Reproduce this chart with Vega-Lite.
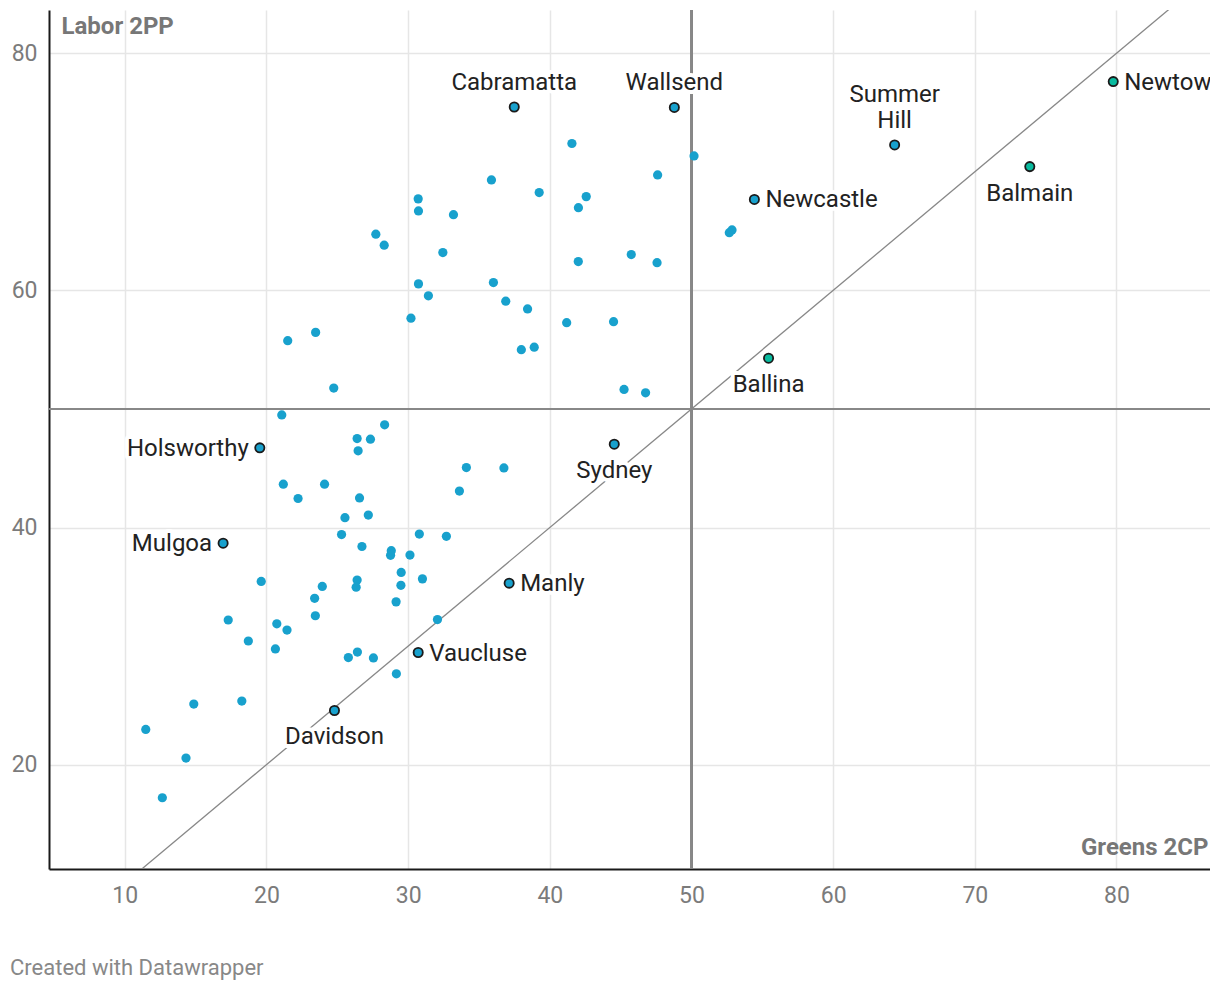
{
  "$schema": "https://vega.github.io/schema/vega-lite/v6.json",
  "width": 1161,
  "height": 859,
  "autosize": {"type": "none"},
  "padding": {"left": 49, "top": 10, "right": 0, "bottom": 137},
  "background": "white",
  "config": {"font": "Roboto", "view": {"stroke": null}},
  "title": {"text": "Created with Datawrapper", "orient": "bottom", "anchor": "start", "frame": "group", "dx": -39, "offset": 51, "fontSize": 22, "fontWeight": "normal", "color": "#888888", "font": "Roboto"},
  "datasets": {
    "seats": [
      {"seat": "Cabramatta", "greens": 37.49, "labor": 75.47, "held": "other"},
      {"seat": "Wallsend", "greens": 48.79, "labor": 75.43, "held": "other"},
      {"seat": "Newcastle", "greens": 54.44, "labor": 67.67, "held": "other"},
      {"seat": "Summer Hill", "greens": 64.34, "labor": 72.27, "held": "other"},
      {"seat": "Balmain", "greens": 73.88, "labor": 70.44, "held": "greens"},
      {"seat": "Newtown", "greens": 79.77, "labor": 77.61, "held": "greens"},
      {"seat": "Ballina", "greens": 55.44, "labor": 54.28, "held": "greens"},
      {"seat": "Sydney", "greens": 44.55, "labor": 47.03, "held": "other"},
      {"seat": "Holsworthy", "greens": 19.53, "labor": 46.72, "held": "other"},
      {"seat": "Mulgoa", "greens": 16.94, "labor": 38.68, "held": "other"},
      {"seat": "Manly", "greens": 37.13, "labor": 35.31, "held": "other"},
      {"seat": "Vaucluse", "greens": 30.71, "labor": 29.46, "held": "other"},
      {"seat": "Davidson", "greens": 24.8, "labor": 24.57, "held": "other"},
      {"greens": 41.56, "labor": 72.39, "held": "other"},
      {"greens": 50.18, "labor": 71.34, "held": "other"},
      {"greens": 47.61, "labor": 69.74, "held": "other"},
      {"greens": 35.88, "labor": 69.32, "held": "other"},
      {"greens": 39.25, "labor": 68.25, "held": "other"},
      {"greens": 42.57, "labor": 67.91, "held": "other"},
      {"greens": 30.71, "labor": 67.72, "held": "other"},
      {"greens": 42.02, "labor": 66.98, "held": "other"},
      {"greens": 30.73, "labor": 66.7, "held": "other"},
      {"greens": 33.2, "labor": 66.39, "held": "other"},
      {"greens": 52.86, "labor": 65.1, "held": "other"},
      {"greens": 52.67, "labor": 64.87, "held": "other"},
      {"greens": 27.72, "labor": 64.74, "held": "other"},
      {"greens": 28.31, "labor": 63.81, "held": "other"},
      {"greens": 32.45, "labor": 63.19, "held": "other"},
      {"greens": 45.75, "labor": 63.02, "held": "other"},
      {"greens": 42.01, "labor": 62.43, "held": "other"},
      {"greens": 47.57, "labor": 62.34, "held": "other"},
      {"greens": 30.73, "labor": 60.55, "held": "other"},
      {"greens": 36.02, "labor": 60.66, "held": "other"},
      {"greens": 31.43, "labor": 59.54, "held": "other"},
      {"greens": 36.89, "labor": 59.09, "held": "other"},
      {"greens": 38.43, "labor": 58.44, "held": "other"},
      {"greens": 30.2, "labor": 57.66, "held": "other"},
      {"greens": 41.19, "labor": 57.28, "held": "other"},
      {"greens": 44.5, "labor": 57.36, "held": "other"},
      {"greens": 23.47, "labor": 56.46, "held": "other"},
      {"greens": 21.5, "labor": 55.76, "held": "other"},
      {"greens": 37.99, "labor": 55.0, "held": "other"},
      {"greens": 38.9, "labor": 55.21, "held": "other"},
      {"greens": 24.75, "labor": 51.76, "held": "other"},
      {"greens": 45.24, "labor": 51.65, "held": "other"},
      {"greens": 46.76, "labor": 51.36, "held": "other"},
      {"greens": 21.08, "labor": 49.5, "held": "other"},
      {"greens": 28.34, "labor": 48.66, "held": "other"},
      {"greens": 26.4, "labor": 47.5, "held": "other"},
      {"greens": 27.34, "labor": 47.45, "held": "other"},
      {"greens": 26.47, "labor": 46.47, "held": "other"},
      {"greens": 34.11, "labor": 45.06, "held": "other"},
      {"greens": 36.76, "labor": 45.03, "held": "other"},
      {"greens": 21.19, "labor": 43.66, "held": "other"},
      {"greens": 24.1, "labor": 43.66, "held": "other"},
      {"greens": 22.23, "labor": 42.45, "held": "other"},
      {"greens": 26.57, "labor": 42.5, "held": "other"},
      {"greens": 33.62, "labor": 43.08, "held": "other"},
      {"greens": 25.54, "labor": 40.83, "held": "other"},
      {"greens": 27.19, "labor": 41.05, "held": "other"},
      {"greens": 25.3, "labor": 39.41, "held": "other"},
      {"greens": 30.79, "labor": 39.45, "held": "other"},
      {"greens": 32.7, "labor": 39.26, "held": "other"},
      {"greens": 26.74, "labor": 38.4, "held": "other"},
      {"greens": 28.81, "labor": 38.05, "held": "other"},
      {"greens": 28.76, "labor": 37.66, "held": "other"},
      {"greens": 30.13, "labor": 37.68, "held": "other"},
      {"greens": 29.51, "labor": 36.21, "held": "other"},
      {"greens": 31.01, "labor": 35.67, "held": "other"},
      {"greens": 19.63, "labor": 35.45, "held": "other"},
      {"greens": 26.4, "labor": 35.57, "held": "other"},
      {"greens": 26.33, "labor": 34.97, "held": "other"},
      {"greens": 29.49, "labor": 35.13, "held": "other"},
      {"greens": 23.94, "labor": 35.03, "held": "other"},
      {"greens": 23.4, "labor": 34.03, "held": "other"},
      {"greens": 29.15, "labor": 33.73, "held": "other"},
      {"greens": 23.45, "labor": 32.56, "held": "other"},
      {"greens": 32.07, "labor": 32.24, "held": "other"},
      {"greens": 17.3, "labor": 32.2, "held": "other"},
      {"greens": 20.73, "labor": 31.88, "held": "other"},
      {"greens": 21.45, "labor": 31.35, "held": "other"},
      {"greens": 18.72, "labor": 30.43, "held": "other"},
      {"greens": 20.63, "labor": 29.76, "held": "other"},
      {"greens": 26.42, "labor": 29.5, "held": "other"},
      {"greens": 25.78, "labor": 29.03, "held": "other"},
      {"greens": 27.55, "labor": 29.0, "held": "other"},
      {"greens": 29.17, "labor": 27.66, "held": "other"},
      {"greens": 14.87, "labor": 25.11, "held": "other"},
      {"greens": 18.26, "labor": 25.36, "held": "other"},
      {"greens": 11.48, "labor": 22.97, "held": "other"},
      {"greens": 14.32, "labor": 20.56, "held": "other"},
      {"greens": 12.65, "labor": 17.21, "held": "other"}
    ]
  },
  "data": {"name": "seats"},
  "encoding": {
    "x": {"field": "greens", "type": "quantitative", "scale": {"domain": [4.65, 86.6], "nice": false, "zero": false},
      "axis": {"title": "Greens 2CP", "values": [10, 20, 30, 40, 50, 60, 70, 80], "domain": true, "domainColor": "#1a1a1a", "domainWidth": 2, "ticks": false, "grid": true, "gridColor": "#e6e6e6", "gridWidth": 1.5, "labelFontSize": 23, "labelColor": "#7b7b7b", "labelPadding": 15, "labelFont": "Roboto",
        "titleAnchor": "end", "titleAlign": "right", "titleBaseline": "alphabetic", "titleX": 1159, "titleY": -15, "titleFontSize": 24, "titleFontWeight": "bold", "titleColor": "#777777", "titleFont": "Roboto"}},
    "y": {"field": "labor", "type": "quantitative", "scale": {"domain": [11.2, 83.65], "nice": false, "zero": false},
      "axis": {"title": "Labor 2PP", "values": [20, 40, 60, 80], "domain": true, "domainColor": "#1a1a1a", "domainWidth": 2, "ticks": false, "grid": true, "gridColor": "#e6e6e6", "gridWidth": 1.5, "labelFontSize": 23, "labelColor": "#7b7b7b", "labelPadding": 12, "labelFont": "Roboto",
        "titleAngle": 0, "titleAlign": "left", "titleBaseline": "top", "titleX": 12, "titleY": 4, "titleFontSize": 24, "titleFontWeight": "bold", "titleColor": "#777777", "titleFont": "Roboto"}}
  },
  "layer": [
    {
      "mark": {"type": "rule", "color": "#888888", "strokeWidth": 1.5},
      "encoding": {"x": {"datum": 50, "type": "quantitative"}, "y": null}
    },
    {
      "mark": {"type": "rule", "color": "#888888", "strokeWidth": 1.5},
      "encoding": {"y": {"datum": 50, "type": "quantitative"}, "x": null}
    },
    {
      "data": {"values": [{"d0": 0, "d1": 100}]},
      "mark": {"type": "rule", "color": "#888888", "strokeWidth": 1.3, "clip": true},
      "encoding": {
        "x": {"field": "d0", "type": "quantitative"},
        "y": {"field": "d0", "type": "quantitative"},
        "x2": {"field": "d1"},
        "y2": {"field": "d1"}
      }
    },
    {
      "transform": [{"filter": "!isValid(datum.seat)"}],
      "mark": {"type": "circle", "size": 85, "opacity": 1, "color": "#18a1cd"}
    },
    {
      "transform": [{"filter": "isValid(datum.seat)"}],
      "mark": {"type": "circle", "size": 85, "opacity": 1, "stroke": "#1a1a1a", "strokeWidth": 1.8},
      "encoding": {
        "color": {"field": "held", "type": "nominal", "scale": {"domain": ["other", "greens"], "range": ["#18a1cd", "#09bb9f"]}, "legend": null}
      }
    },
    {
      "transform": [{"filter": {"field": "seat", "oneOf": ["Cabramatta", "Wallsend"]}}],
      "mark": {"type": "text", "font": "Roboto", "fontSize": 24, "align": "center", "baseline": "bottom", "dy": -12, "fill": "white", "stroke": "white", "strokeWidth": 8, "strokeJoin": "round"},
      "encoding": {"text": {"field": "seat"}}
    },
    {
      "transform": [{"filter": {"field": "seat", "equal": "Summer Hill"}}],
      "mark": {"type": "text", "font": "Roboto", "fontSize": 24, "align": "center", "baseline": "bottom", "dy": -38, "lineBreak": " ", "lineHeight": 26, "fill": "white", "stroke": "white", "strokeWidth": 8, "strokeJoin": "round"},
      "encoding": {"text": {"field": "seat"}}
    },
    {
      "transform": [{"filter": {"field": "seat", "oneOf": ["Balmain", "Ballina", "Sydney", "Davidson"]}}],
      "mark": {"type": "text", "font": "Roboto", "fontSize": 24, "align": "center", "baseline": "top", "dy": 15, "fill": "white", "stroke": "white", "strokeWidth": 8, "strokeJoin": "round"},
      "encoding": {"text": {"field": "seat"}}
    },
    {
      "transform": [{"filter": {"field": "seat", "oneOf": ["Newcastle", "Newtown", "Manly", "Vaucluse"]}}],
      "mark": {"type": "text", "font": "Roboto", "fontSize": 24, "align": "left", "baseline": "middle", "dx": 11, "dy": 1, "fill": "white", "stroke": "white", "strokeWidth": 8, "strokeJoin": "round"},
      "encoding": {"text": {"field": "seat"}}
    },
    {
      "transform": [{"filter": {"field": "seat", "oneOf": ["Holsworthy", "Mulgoa"]}}],
      "mark": {"type": "text", "font": "Roboto", "fontSize": 24, "align": "right", "baseline": "middle", "dx": -11, "dy": 1, "fill": "white", "stroke": "white", "strokeWidth": 8, "strokeJoin": "round"},
      "encoding": {"text": {"field": "seat"}}
    },
    {
      "transform": [{"filter": {"field": "seat", "oneOf": ["Cabramatta", "Wallsend"]}}],
      "mark": {"type": "text", "font": "Roboto", "fontSize": 24, "align": "center", "baseline": "bottom", "dy": -12, "fill": "#222222"},
      "encoding": {"text": {"field": "seat"}}
    },
    {
      "transform": [{"filter": {"field": "seat", "equal": "Summer Hill"}}],
      "mark": {"type": "text", "font": "Roboto", "fontSize": 24, "align": "center", "baseline": "bottom", "dy": -38, "lineBreak": " ", "lineHeight": 26, "fill": "#222222"},
      "encoding": {"text": {"field": "seat"}}
    },
    {
      "transform": [{"filter": {"field": "seat", "oneOf": ["Balmain", "Ballina", "Sydney", "Davidson"]}}],
      "mark": {"type": "text", "font": "Roboto", "fontSize": 24, "align": "center", "baseline": "top", "dy": 15, "fill": "#222222"},
      "encoding": {"text": {"field": "seat"}}
    },
    {
      "transform": [{"filter": {"field": "seat", "oneOf": ["Newcastle", "Newtown", "Manly", "Vaucluse"]}}],
      "mark": {"type": "text", "font": "Roboto", "fontSize": 24, "align": "left", "baseline": "middle", "dx": 11, "dy": 1, "fill": "#222222"},
      "encoding": {"text": {"field": "seat"}}
    },
    {
      "transform": [{"filter": {"field": "seat", "oneOf": ["Holsworthy", "Mulgoa"]}}],
      "mark": {"type": "text", "font": "Roboto", "fontSize": 24, "align": "right", "baseline": "middle", "dx": -11, "dy": 1, "fill": "#222222"},
      "encoding": {"text": {"field": "seat"}}
    }
  ]
}
